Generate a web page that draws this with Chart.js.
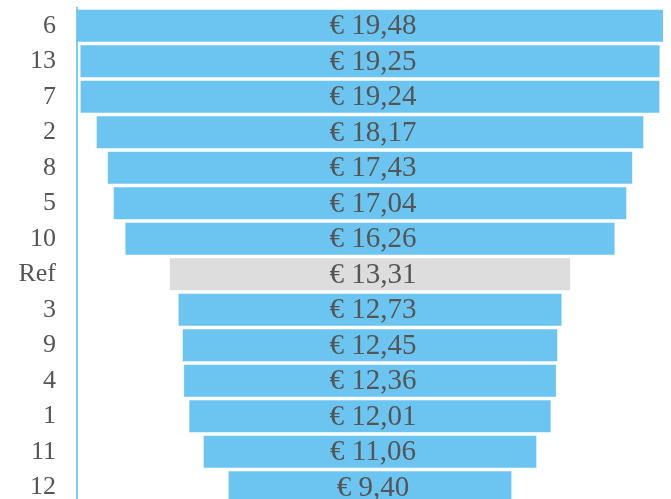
<!DOCTYPE html>
<html>
<head>
<meta charset="utf-8">
<script src="https://cdn.jsdelivr.net/npm/chart.js@4/dist/chart.umd.min.js"></script>
<style>
html,body{margin:0;padding:0;overflow:hidden;background:#fff;}
canvas{display:block;}
</style>
</head>
<body>
<canvas id="c" width="671" height="506"></canvas>
<script>
const categories = ['6','13','7','2','8','5','10','Ref','3','9','4','1','11','12'];
const values = [19.48,19.25,19.24,18.17,17.43,17.04,16.26,13.31,12.73,12.45,12.36,12.01,11.06,9.40];
const refLabel = 'Ref';

const blue = '#6CC5F0';
const grey = '#DDDDDD';
const textColor = '#555555';
const fontFamily = '"Liberation Serif", "DejaVu Serif", serif';

const half = Math.max(...values) / 2;

const valueLabels = {
  id: 'valueLabels',
  afterDatasetsDraw(chart) {
    const ctx = chart.ctx;
    const meta = chart.getDatasetMeta(0);
    ctx.save();
    ctx.font = '29px ' + fontFamily;
    ctx.fillStyle = textColor;
    ctx.textAlign = 'center';
    ctx.textBaseline = 'middle';
    meta.data.forEach((bar, i) => {
      const p = bar.getProps(['x','y','base'], true);
      const cx = (p.x + p.base) / 2 + 3;
      ctx.fillText('€ ' + values[i].toFixed(2).replace('.', ','), cx, p.y + 1);
    });
    ctx.restore();
  }
};

new Chart(document.getElementById('c'), {
  type: 'bar',
  data: {
    labels: categories,
    datasets: [{
      data: values.map(v => [-v / 2, v / 2]),
      backgroundColor: categories.map(c => c === refLabel ? grey : blue),
      borderWidth: 0,
      barPercentage: 0.9,
      categoryPercentage: 1.0
    }]
  },
  options: {
    indexAxis: 'y',
    responsive: false,
    animation: false,
    layout: { padding: { top: 8, right: 8, bottom: 1, left: 0 } },
    plugins: { legend: { display: false }, tooltip: { enabled: false } },
    scales: {
      x: {
        display: false,
        min: -half,
        max: half
      },
      y: {
        afterFit(scale) {
          scale.width = 77;
          scale.paddingTop = 0;
          scale.paddingBottom = 0;
        },
        grid: { display: false, drawTicks: false },
        border: { display: true, color: '#7FCDF2', width: 2 },
        ticks: {
          padding: 21,
          color: textColor,
          font: { family: fontFamily, size: 26 }
        }
      }
    }
  },
  plugins: [valueLabels]
});
</script>
</body>
</html>
